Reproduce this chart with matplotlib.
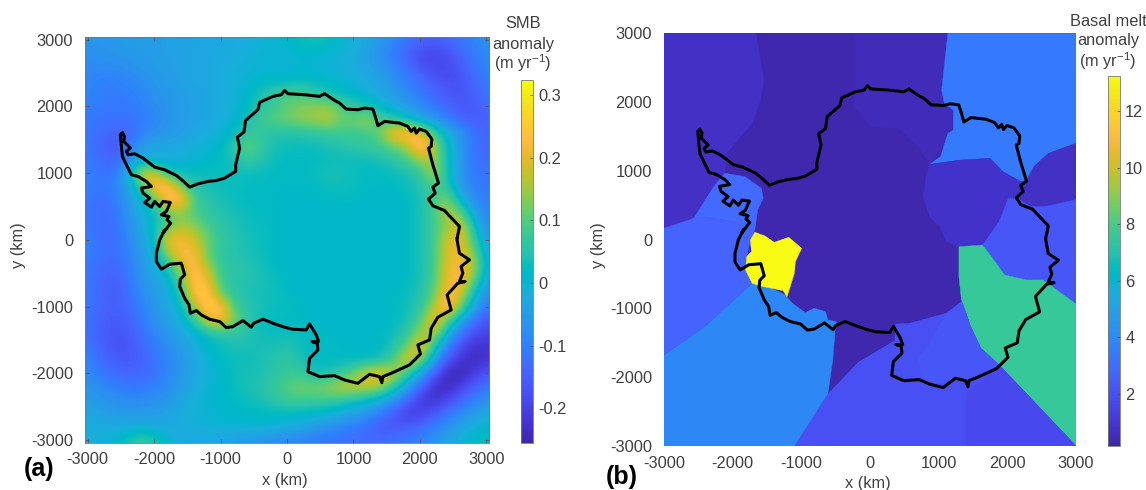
import numpy as np
import matplotlib
matplotlib.use("Agg")
import matplotlib.pyplot as plt
from matplotlib.colors import LinearSegmentedColormap, Normalize
from matplotlib.cm import ScalarMappable

plt.rcParams['font.family'] = ['Liberation Sans', 'DejaVu Sans']
plt.rcParams['mathtext.default'] = 'regular'
plt.rcParams['axes.unicode_minus'] = False

PARULA = [
(0.2422,0.1504,0.6603),(0.2504,0.1650,0.7076),(0.2578,0.1818,0.7511),(0.2647,0.1978,0.7952),
(0.2706,0.2147,0.8364),(0.2751,0.2342,0.8710),(0.2783,0.2559,0.8991),(0.2803,0.2782,0.9221),
(0.2813,0.3006,0.9414),(0.2810,0.3228,0.9579),(0.2795,0.3447,0.9717),(0.2760,0.3667,0.9829),
(0.2699,0.3892,0.9906),(0.2602,0.4123,0.9952),(0.2440,0.4358,0.9988),(0.2206,0.4603,0.9973),
(0.1963,0.4847,0.9892),(0.1834,0.5074,0.9798),(0.1786,0.5289,0.9682),(0.1764,0.5499,0.9520),
(0.1687,0.5703,0.9359),(0.1540,0.5902,0.9218),(0.1460,0.6091,0.9079),(0.1380,0.6276,0.8973),
(0.1248,0.6459,0.8883),(0.1113,0.6635,0.8763),(0.0952,0.6798,0.8598),(0.0689,0.6948,0.8394),
(0.0297,0.7082,0.8163),(0.0036,0.7203,0.7917),(0.0067,0.7312,0.7660),(0.0433,0.7411,0.7394),
(0.0964,0.7500,0.7120),(0.1408,0.7584,0.6842),(0.1717,0.7670,0.6554),(0.1938,0.7758,0.6251),
(0.2161,0.7843,0.5923),(0.2470,0.7918,0.5567),(0.2906,0.7973,0.5188),(0.3406,0.8008,0.4789),
(0.3909,0.8029,0.4354),(0.4456,0.8024,0.3909),(0.5044,0.7993,0.3480),(0.5616,0.7942,0.3045),
(0.6174,0.7876,0.2612),(0.6720,0.7793,0.2227),(0.7242,0.7698,0.1910),(0.7738,0.7598,0.1646),
(0.8203,0.7498,0.1535),(0.8634,0.7406,0.1596),(0.9035,0.7330,0.1774),(0.9393,0.7288,0.2100),
(0.9728,0.7298,0.2394),(0.9956,0.7434,0.2371),(0.9970,0.7659,0.2199),(0.9952,0.7861,0.1964),
(0.9892,0.8136,0.1753),(0.9786,0.8386,0.1490),(0.9676,0.8639,0.1229),(0.9610,0.8890,0.1045),
(0.9597,0.9135,0.0902),(0.9628,0.9373,0.0706),(0.9691,0.9606,0.0515),(0.9769,0.9839,0.0805)]
parula = LinearSegmentedColormap.from_list("parula", PARULA, N=256)

smb_rows = [
[-6,-6,-6,-5,-5,-5,-4,-4,-4,-3,-3,-2,-2,-1,0,1,3,4,3,1,-1,-3,-6,-8,-11,-14,-15,-14,-11,-9,-7],
[-7,-7,-6,-6,-5,-5,-4,-4,-3,-3,-2,-2,-1,0,0,0,1,1,0,-1,-2,-4,-7,-11,-15,-18,-19,-17,-14,-11,-8],
[-8,-8,-8,-7,-6,-5,-5,-4,-3,-3,-2,-1,-1,0,0,0,0,0,-1,-1,-2,-4,-6,-9,-13,-17,-19,-19,-16,-12,-9],
[-9,-10,-10,-9,-8,-6,-5,-4,-3,-3,-2,-1,0,1,1,1,2,2,1,0,-1,-2,-4,-7,-10,-13,-16,-18,-17,-14,-10],
[-9,-10,-11,-10,-9,-7,-6,-5,-4,-3,-2,-1,1,4,7,9,8,6,4,2,1,-1,-3,-5,-8,-11,-14,-16,-17,-15,-11],
[-10,-11,-11,-11,-10,-8,-6,-5,-4,-3,-2,-1,2,6,8,11,13,14,15,10,6,4,1,-2,-5,-8,-11,-14,-16,-16,-13],
[-11,-12,-12,-12,-11,-9,-7,-5,-4,-3,-1,0,3,9,10,12,14,15,17,12,12,16,9,6,2,-2,-6,-10,-14,-16,-14],
[-11,-13,-14,-15,-10,-7,-6,-5,-3,-2,-1,2,8,6,5,5,5,6,7,8,8,8,12,25,26,22,8,0,-6,-12,-14],
[-11,-14,-17,-13,-4,-3,-3,-2,-1,0,2,6,12,7,4,3,3,3,4,5,6,7,8,11,15,30,16,2,-6,-12,-14],
[-11,-13,-14,-9,-3,-2,-2,-1,0,1,2,4,7,5,3,2,2,2,3,3,3,3,4,6,9,14,16,3,-6,-12,-13],
[-10,-12,-12,-2,20,20,5,3,3,3,3,3,3,3,2,2,2,3,4,4,3,2,2,3,4,7,17,3,-6,-11,-12],
[-10,-11,-10,-4,6,26,27,12,5,4,3,3,2,2,2,2,2,2,3,3,3,2,2,2,3,5,9,6,-5,-10,-12],
[-11,-13,-11,-6,0,8,25,27,9,5,4,3,2,2,2,1,1,1,2,2,2,1,1,1,2,4,9,14,0,-8,-11],
[-11,-13,-12,-7,-2,3,10,13,9,7,5,4,3,2,2,1,1,1,1,1,1,1,1,1,2,4,8,18,12,-3,-10],
[-11,-13,-13,-8,-3,2,10,17,14,9,6,5,3,3,2,1,1,1,1,1,1,1,1,1,2,4,8,14,21,3,-8],
[-10,-13,-13,-9,-4,1,23,22,19,12,7,5,4,3,2,1,1,1,1,1,1,1,1,1,2,4,8,19,21,8,-6],
[-10,-12,-13,-10,-5,-1,15,23,23,11,6,5,4,3,2,1,1,1,1,1,1,1,1,1,2,4,8,20,22,13,-3],
[-11,-13,-14,-11,-6,-2,4,18,25,16,7,6,5,4,2,1,1,1,1,1,1,1,1,1,2,4,8,21,22,17,-2],
[-11,-14,-15,-12,-7,-4,-1,10,26,22,8,5,5,4,3,2,1,1,1,1,1,1,1,1,2,4,9,21,25,11,-5],
[-11,-14,-16,-13,-8,-5,-2,5,25,26,11,6,4,4,3,2,1,1,1,1,1,1,1,2,3,5,11,24,19,2,-8],
[-11,-14,-15,-14,-10,-6,-3,1,15,28,25,9,5,4,3,3,2,1,1,1,1,1,1,2,3,6,15,29,12,-3,-12],
[-12,-15,-16,-15,-11,-7,-4,-1,6,19,24,13,6,3,2,2,2,1,1,1,1,1,1,2,4,9,24,11,-3,-12,-17],
[-12,-15,-17,-16,-13,-9,-6,-3,0,3,5,6,5,3,3,3,3,2,2,1,1,1,2,3,7,15,18,0,-12,-18,-20],
[-11,-15,-17,-17,-14,-11,-8,-5,-2,1,3,4,4,4,4,5,3,2,2,2,1,1,2,5,11,24,5,-10,-18,-23,-22],
[-9,-13,-15,-16,-15,-12,-9,-6,-3,0,2,3,3,4,5,7,4,2,2,2,2,2,4,9,22,14,-4,-17,-22,-24,-22],
[-8,-11,-13,-14,-14,-12,-9,-6,-3,-1,1,3,4,4,6,8,7,4,4,7,12,20,22,18,7,-4,-15,-24,-25,-21,-16],
[-6,-8,-10,-11,-11,-10,-8,-5,-2,0,1,3,4,5,7,10,13,12,14,18,18,18,15,6,-4,-14,-23,-24,-20,-15,-11],
[-5,-6,-7,-8,-8,-7,-6,-3,-1,0,1,2,3,4,6,8,8,8,8,6,4,1,-2,-7,-14,-21,-23,-19,-14,-10,-7],
[-3,-4,-5,-5,-5,-5,-4,-2,-1,0,1,1,2,2,2,2,2,1,0,-2,-4,-6,-11,-16,-21,-20,-16,-12,-8,-5,-2],
[-2,-2,-2,-2,-2,-2,-2,-2,-1,-1,0,0,0,0,-1,-2,-3,-5,-7,-9,-11,-13,-16,-16,-15,-13,-10,-7,-3,-1,1],
[-2,-1,0,4,8,5,0,-2,-3,-3,-4,-5,-6,-7,-8,-9,-10,-11,-12,-12,-13,-13,-13,-12,-11,-9,-6,-3,-1,2,3],
]

# ---- coastline (km), clockwise from the peninsula tip
coast_x = [-2477,-2447,-2457,-2407,-2357,-2417,-2392,-2292,-2167,-1991,-1841,-1665,-1555,-1465,-1340,-1189,-1064,-939,-773,-773,-713,-748,-648,-623,-437,-412,-212,-86,-36,14,265,490,566,716,791,891,1067,1167,1292,1328,1368,1468,1693,1819,1869,1919,1944,1994,2095,2180,2170,2130,2195,2280,2195,2230,2130,2195,2370,2445,2596,2561,2555,2595,2746,2620,2646,2595,2681,2570,2410,2470,2270,2170,2145,1969,2009,1843,1568,1442,1427,1392,1242,1066,866,716,490,315,340,465,455,375,475,440,340,290,89,-36,-211,-362,-502,-537,-663,-813,-913,-1013,-1164,-1289,-1364,-1455,-1475,-1540,-1615,-1605,-1540,-1590,-1765,-1891,-1966,-1966,-1916,-1840,-1866,-1751,-1806,-1776,-1891,-1816,-1756,-1866,-1916,-1991,-2041,-2142,-2066,-2167,-2192,-2041,-2117,-2242,-2342,-2417,-2477,-2493,-2508,-2477]
coast_y = [1600,1550,1475,1425,1375,1325,1275,1290,1225,1090,1050,965,875,790,840,875,890,925,1025,1125,1375,1540,1615,1790,1950,2060,2150,2175,2240,2190,2175,2150,2190,2090,2050,1960,1950,1975,1960,1850,1710,1775,1750,1700,1625,1675,1600,1660,1625,1510,1400,1375,1125,850,790,700,610,510,440,360,200,25,25,-200,-300,-400,-500,-625,-625,-650,-825,-1050,-1160,-1325,-1500,-1575,-1710,-1875,-2000,-2050,-2140,-2050,-2015,-2150,-2100,-2035,-2050,-1975,-1775,-1650,-1550,-1525,-1525,-1425,-1260,-1350,-1340,-1310,-1250,-1190,-1250,-1310,-1210,-1300,-1315,-1225,-1190,-1125,-1060,-1100,-975,-875,-700,-590,-525,-350,-365,-440,-325,-200,0,150,100,250,300,350,375,425,560,575,500,575,490,560,625,700,775,800,875,950,975,1125,1250,1425,1575,1600]

# ---- basal melt basins: melt anomaly (m/yr) and outline (km)
interior_melt = 0.3
basin_melt = [0.7, 0.5, 3.4, 0.8, 0.7, 2.2, 7.6, 2.0, 1.7, 2.2, 0.3, 3.95, 2.7, 2.9, 13.25]
basin_outlines = [
 [(-3000,3000),(-1662,3000),(-1545,2322),(-1609,1982),(-1716,1692),(-2089,1255),(-2115,965),(-2275,771),(-2568,310),(-3000,165)],
 [(-234,3000),(1135,3000),(1044,2176),(1082,1982),(1215,1885),(1215,1595),(1055,1352),(868,1095),(709,1352),(416,1619),(16,1643),(-224,1934)],
 [(1135,3000),(3000,3000),(3000,1401),(2600,1255),(2387,1062),(2270,843),(2200,843),(1934,989),(1748,1183),(1321,1158),(868,1095),(1028,1207),(1135,1546),(1215,1595),(1215,1885),(1082,1982),(1044,2176)],
 [(868,1095),(1321,1158),(1748,1183),(1934,989),(2200,843),(2147,625),(2014,601),(1881,262),(1641,-78),(1295,-102),(1108,-29),(1018,189),(868,334),(778,625),(815,916)],
 [(2270,843),(2387,1062),(2600,1255),(3000,1401),(3000,582),(2547,480),(2334,480),(2147,601),(2200,843)],
 [(2014,601),(2147,601),(2334,480),(2547,480),(3000,582),(3000,-935),(2520,-586),(2280,-586),(1961,-514),(1641,-78),(1881,262)],
 [(1295,-102),(1641,-78),(1961,-514),(2280,-586),(2520,-586),(3000,-935),(3000,-3000),(1881,-1822),(1614,-1580),(1455,-1241),(1391,-1047),(1332,-877),(1295,-538)],
 [(-1103,-3000),(-613,-2234),(-170,-1774),(362,-1459),(373,-1226),(575,-1217),(1108,-1071),(1332,-902),(1391,-1047),(1455,-1241),(1614,-1580),(1881,-1822),(3000,-3000)],
 [(1401,-3000),(1401,-2240),(1881,-1822),(3000,-3000)],
 [(682,-1725),(842,-1556),(1002,-1265),(1108,-1095),(1332,-902),(1391,-1047),(1455,-1241),(1614,-1580),(1881,-1822),(1401,-2030),(1002,-2090),(789,-2040)],
 [(-506,-1289),(362,-1459),(-170,-1774),(-613,-2234),(-543,-1750)],
 [(-3000,-1677),(-2408,-1265),(-2089,-974),(-1716,-635),(-1582,-659),(-1423,-708),(-1236,-805),(-1130,-926),(-943,-1062),(-810,-998),(-650,-1047),(-613,-1168),(-490,-1192),(-506,-1289),(-543,-1750),(-613,-2234),(-1103,-3000),(-3000,-3000)],
 [(-3000,165),(-2568,310),(-2408,334),(-1982,262),(-1822,189),(-1678,141),(-1742,-5),(-1795,-247),(-1812,-441),(-1716,-635),(-2089,-974),(-2408,-1265),(-3000,-1677)],
 [(-2115,965),(-1822,916),(-1582,746),(-1556,601),(-1636,431),(-1678,141),(-1822,189),(-1982,262),(-2408,334),(-2568,310),(-2275,771)],
 [(-1678,107),(-1529,53),(-1396,-39),(-1183,34),(-996,-126),(-1087,-320),(-1103,-490),(-1209,-829),(-1263,-742),(-1423,-708),(-1556,-683),(-1716,-635),(-1812,-441),(-1795,-247),(-1726,-175),(-1742,-5)],
]

xy_ticks = [-3000,-2000,-1000,0,1000,2000,3000]
smb_ticks = [-0.2,-0.1,0,0.1,0.2,0.3]
melt_ticks = [2,4,6,8,10,12]
smb_range = (-0.255, 0.324)
melt_range = (0.16, 13.25)
GRAY = '#404040'
W, H = 1146, 490
FS = 11.8

def box(l, t, r, b):
    return [l/W, 1-b/H, (r-l)/W, (b-t)/H]

def label(x, y, s, **kw):
    kw.setdefault('color', GRAY); kw.setdefault('fontsize', FS)
    kw.setdefault('ha', 'center'); kw.setdefault('va', 'center')
    fig.text(x/W, 1-y/H, s, **kw)

fig = plt.figure(figsize=(W/100, H/100), dpi=100)

def style(ax, lim):
    ax.set_xlim(*lim); ax.set_ylim(*lim)
    ax.set_xticks(xy_ticks); ax.set_yticks(xy_ticks)
    ax.tick_params(direction='in', top=True, right=True, length=3, width=0.6,
                   color='#555555', labelcolor=GRAY, labelsize=FS)
    ax.tick_params(axis='x', pad=7)
    ax.tick_params(axis='y', pad=8.5)
    for s in ax.spines.values():
        s.set_linewidth(0.6); s.set_color('#777777')

def colorbar(rect, norm, ticks):
    cax = fig.add_axes(rect)
    cb = fig.colorbar(ScalarMappable(norm=norm, cmap=parula), cax=cax, ticks=ticks)
    cb.ax.set_yticklabels([f'{t:g}' for t in ticks])
    cb.ax.tick_params(direction='in', length=2.5, width=0.6, color='#555555',
                      labelcolor=GRAY, labelsize=FS, pad=4)
    cb.outline.set_linewidth(0.6); cb.outline.set_edgecolor('#777777')

# (a)
ax1 = fig.add_axes(box(85, 37, 489, 442.7))
norm1 = Normalize(*smb_range)
smb = np.array(smb_rows) / 100.0
ax1.imshow(smb, extent=(-3100, 3100, -3100, 3100), origin='upper', cmap=parula, norm=norm1,
           interpolation='bicubic', aspect='auto')
ax1.plot(coast_x, coast_y, color='black', lw=2.2, solid_joinstyle='round')
style(ax1, (-3040, 3040))
colorbar(box(520.6, 80, 533, 442.7), norm1, smb_ticks)

# (b)
ax2 = fig.add_axes(box(664, 33.3, 1076, 446))
norm2 = Normalize(*melt_range)
ax2.set_facecolor(parula(norm2(interior_melt)))
for value, outline in zip(basin_melt, basin_outlines):
    pts = np.array(outline)
    c = parula(norm2(value))
    ax2.fill(pts[:, 0], pts[:, 1], facecolor=c, edgecolor=c, lw=0.3)
ax2.plot(coast_x, coast_y, color='black', lw=2.2, solid_joinstyle='round')
style(ax2, (-3000, 3000))
ax2.tick_params(length=0)
for s in ax2.spines.values():
    s.set_visible(False)
colorbar(box(1107.5, 75.7, 1119.6, 446), norm2, melt_ticks)

label(285, 480, 'x (km)')
label(19, 245, 'y (km)', rotation=90)
label(868, 483, 'x (km)')
label(598, 245, 'y (km)', rotation=90)
label(523, 24, 'SMB')
label(523, 44, 'anomaly')
label(523, 63, '(m yr$^{-1}$)')
label(1108, 21, 'Basal melt')
label(1108, 41, 'anomaly')
label(1108, 61, '(m yr$^{-1}$)')
label(39, 469, '(a)', fontsize=18, fontweight='bold', color='black')
label(622, 477, '(b)', fontsize=18, fontweight='bold', color='black')

fig.savefig('out.png', dpi=100)
